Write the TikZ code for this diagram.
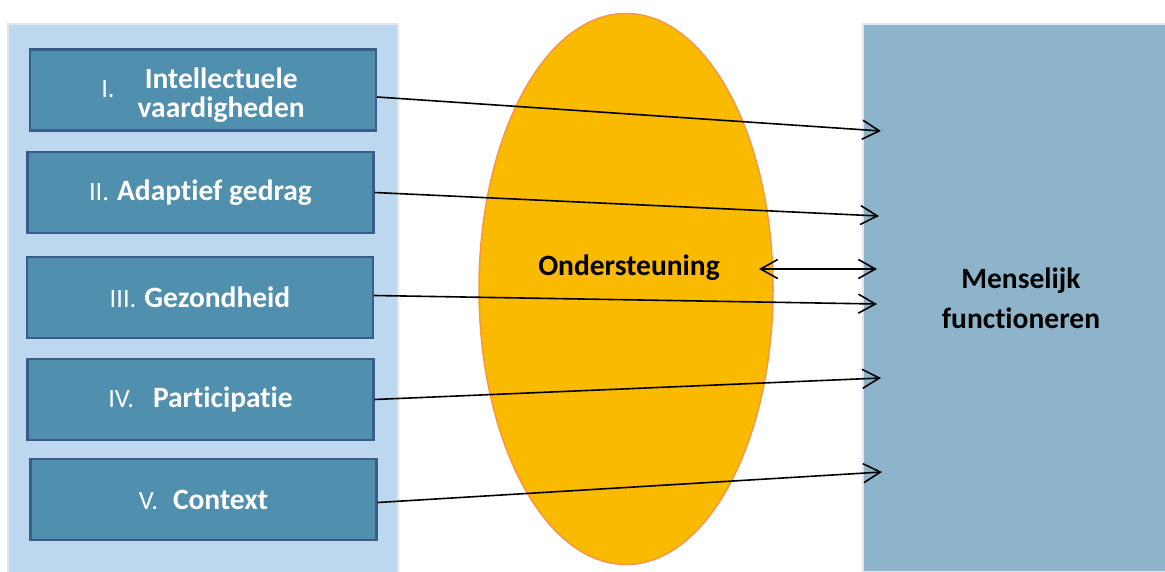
\documentclass[tikz,border=0pt]{standalone}
\usepackage{fontspec}
\setmainfont{Carlito}[Ligatures={NoCommon,NoContextual,NoRequired},RawFeature={-liga;-clig;-dlig}]
\usetikzlibrary{shapes.geometric,arrows.meta}

\definecolor{leftpanel}{HTML}{BDD7EE}
\definecolor{rightpanel}{HTML}{8DB4CA}
\definecolor{panelrim}{HTML}{E2E6EA}
\definecolor{dimfill}{HTML}{508FAE}
\definecolor{dimrim}{HTML}{385D8A}
\definecolor{ovalfill}{HTML}{F9BA00}
\definecolor{ovalrim}{HTML}{F79646}

\newcommand{\romnum}[1]{{\mdseries\fontsize{26.5}{30}\selectfont #1}}

\begin{document}
\begin{tikzpicture}[x=1pt,y=-1pt,
    font=\bfseries\fontsize{29.5}{29}\selectfont,
    dimbox/.style={draw=dimrim,line width=2.2pt,fill=dimfill,text=white,
        minimum width=346pt,minimum height=81pt,inner sep=0pt},
    link/.style={line width=1.6pt,-{Straight Barb[length=17pt,width=19pt]}},
    duallink/.style={line width=1.6pt,
        {Straight Barb[length=17pt,width=19pt]}-{Straight Barb[length=17pt,width=19pt]}}]
    \useasboundingbox (0,0) rectangle (1165,572);

    % Draw the panels
    \node [draw=panelrim,line width=1.5pt,fill=leftpanel,inner sep=0pt,
        minimum width=390pt,minimum height=552pt] (dims) at (203,300) {};
    \node [draw=panelrim,line width=1.5pt,fill=rightpanel,inner sep=0pt,align=center,
        minimum width=316pt,minimum height=548pt,
        font=\bfseries\fontsize{29.5}{40}\selectfont] (mf) at (1021,298) {Menselijk\\functioneren};

    % Draw the support oval
    \node [ellipse,draw=ovalrim,line width=1.5pt,fill=ovalfill,
        minimum width=294pt,minimum height=551pt] (ond) at (626,289) {};
    \node (ondlbl) at (629,268) {Ondersteuning};

    % Dimension boxes
    \node [dimbox,text height=50pt,text depth=23pt] (dimI) at (203,90) {\raisebox{6pt}{\romnum{I.}}\hspace{23pt}%
        \begin{tabular}{@{}c@{}}Intellectuele\\vaardigheden\end{tabular}\hspace{5pt}};
    \node [dimbox] (dimII) at (200.5,192.5) {\romnum{II.}\hspace{8pt}Adaptief gedrag};
    \node [dimbox] (dimIII) at (200,297.5) {\romnum{III.}\hspace{8pt}Gezondheid};
    \node [dimbox] (dimIV) at (200.5,399.5) {\romnum{IV.}\hspace{19pt}Participatie};
    \node [dimbox] (dimV) at (203.5,499.5) {\romnum{V.}\hspace{15pt}Context};

    % Arrow ends in the right panel
    \coordinate (tipI) at (881,131);
    \coordinate (tipII) at (879,216);
    \coordinate (supL) at (759,269);
    \coordinate (supR) at (877,269);
    \coordinate (tipIII) at (877,304);
    \coordinate (tipIV) at (881,378);
    \coordinate (tipV) at (882,472);

    % Draw the arrows
    \draw [link] ([yshift=-7pt]dimI.east) -- (tipI);
    \draw [link] (dimII.east) -- (tipII);
    \draw [duallink] (supL) -- (supR);
    \draw [link] ([yshift=2pt]dimIII.east) -- (tipIII);
    \draw [link] (dimIV.east) -- (tipIV);
    \draw [link] ([yshift=-3pt]dimV.east) -- (tipV);
\end{tikzpicture}
\end{document}
